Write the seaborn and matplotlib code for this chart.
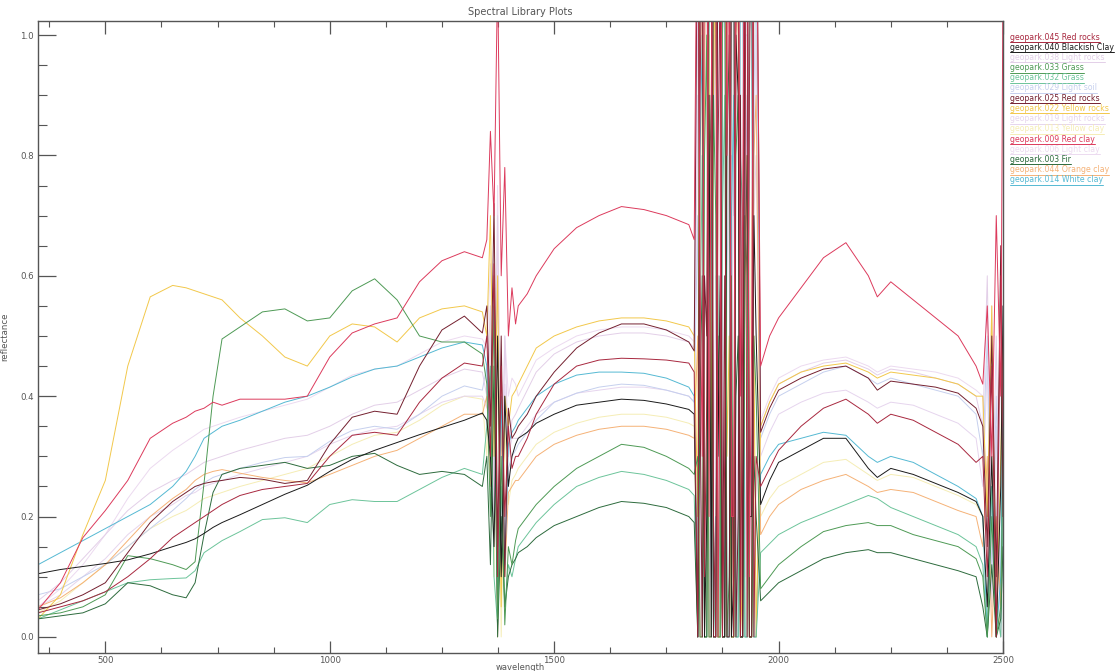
import numpy as np
import pandas as pd
import matplotlib
matplotlib.use("Agg")
import matplotlib.pyplot as plt
from matplotlib.lines import Line2D
from matplotlib.ticker import MultipleLocator
import seaborn as sns

# ---------------- wavelength grid (nm) ----------------
seg1_wl = [350, 400, 450, 500, 550, 600, 650, 680, 700, 720, 740, 760, 800, 850,
           900, 950, 1000, 1050, 1100, 1150, 1200, 1250, 1300, 1340]
band1_wl = [1350, 1358, 1366, 1374, 1382, 1390, 1398, 1406, 1414]
seg2_wl = [1420, 1440, 1460, 1500, 1550, 1600, 1650, 1700, 1750, 1800, 1812]
band2_wl = [1820, 1825, 1830, 1835, 1840, 1845, 1850, 1855, 1860, 1865, 1870, 1875, 1880, 1885,
            1890, 1895, 1900, 1905, 1910, 1915, 1920, 1925, 1930, 1935, 1940, 1945, 1950]
seg3_wl = [1960, 1980, 2000, 2050, 2100, 2150, 2200, 2220, 2250, 2300, 2350, 2400, 2440]
band3_wl = [2455, 2465, 2475, 2485, 2495, 2500]
wavelength = seg1_wl + band1_wl + seg2_wl + band2_wl + seg3_wl + band3_wl

# ---------------- reflectance series ----------------
red_rocks_045 = [
    0.04, 0.05, 0.06, 0.075, 0.10, 0.13, 0.165, 0.18, 0.19, 0.20, 0.21, 0.22, 0.235, 0.245,
    0.25, 0.255, 0.30, 0.335, 0.34, 0.335, 0.39, 0.43, 0.455, 0.45,
    0.5, 0.3, 0.62, 0.1, 0.45, 0.2, 0.35, 0.28, 0.3,
    0.30, 0.33, 0.37, 0.42, 0.45, 0.46, 0.463, 0.462, 0.46, 0.455, 0.44,
    0.0, 0.9, 1.2, 0.1, 0.4, 1.3, 1.4, 0.2, 0.0, 0.8, 1.1, 0.0, 0.3, 1.2, 1.3, 0.4, 0.0, 1.0,
    1.2, 0.0, 0.5, 1.3, 0.0, 0.9, 1.4, 0.0, 0.3,
    0.25, 0.28, 0.31, 0.35, 0.38, 0.395, 0.37, 0.355, 0.37, 0.36, 0.34, 0.32, 0.29,
    0.3, 0.1, 0.45, 0.0, 0.6, 0.35]
blackish_clay_040 = [
    0.105, 0.112, 0.117, 0.122, 0.128, 0.138, 0.15, 0.157, 0.163, 0.172, 0.182, 0.19, 0.203, 0.22,
    0.237, 0.252, 0.275, 0.295, 0.31, 0.323, 0.336, 0.348, 0.36, 0.372,
    0.36, 0.3, 0.15, 0.5, 0.1, 0.4, 0.25, 0.3, 0.32,
    0.33, 0.34, 0.355, 0.37, 0.385, 0.39, 0.395, 0.393, 0.387, 0.378, 0.37,
    0.0, 1.1, 1.3, 0.0, 0.2, 0.9, 0.0, 1.3, 1.2, 0.3, 0.6, 0.0, 0.0, 1.2, 1.4, 0.0, 0.1, 1.0,
    0.9, 0.0, 0.0, 1.3, 1.3, 0.2, 0.2, 0.7, 0.5,
    0.22, 0.26, 0.29, 0.31, 0.33, 0.33, 0.28, 0.265, 0.28, 0.27, 0.255, 0.24, 0.225,
    0.2, 0.05, 0.3, 0.0, 0.25, 0.55]
light_rocks_038 = [
    0.06, 0.09, 0.13, 0.17, 0.21, 0.24, 0.26, 0.27, 0.28, 0.29, 0.295, 0.30, 0.31, 0.32,
    0.33, 0.335, 0.35, 0.37, 0.385, 0.39, 0.41, 0.43, 0.445, 0.44,
    0.4, 0.55, 0.2, 0.7, 0.15, 0.5, 0.3, 0.36, 0.37,
    0.38, 0.41, 0.44, 0.47, 0.49, 0.50, 0.505, 0.505, 0.50, 0.49, 0.48,
    1.1, 0.2, 0.0, 1.2, 1.3, 0.4, 0.2, 1.0, 0.8, 0.0, 1.4, 0.6, 0.0, 1.1, 0.6, 0.0, 1.3, 0.3,
    0.0, 1.2, 1.2, 0.1, 0.4, 1.3, 1.0, 0.2, 0.0,
    0.35, 0.39, 0.42, 0.44, 0.455, 0.46, 0.445, 0.435, 0.445, 0.44, 0.43, 0.42, 0.40,
    0.35, 0.6, 0.15, 0.5, 0.0, 0.4]
grass_033 = [
    0.035, 0.04, 0.05, 0.07, 0.135, 0.13, 0.12, 0.112, 0.125, 0.256, 0.40, 0.495, 0.515, 0.54,
    0.545, 0.525, 0.53, 0.575, 0.595, 0.56, 0.50, 0.49, 0.49, 0.47,
    0.42, 0.2, 0.55, 0.03, 0.3, 0.02, 0.15, 0.12, 0.16,
    0.18, 0.20, 0.22, 0.25, 0.28, 0.30, 0.32, 0.315, 0.30, 0.28, 0.27,
    0.3, 0.0, 0.0, 0.8, 1.0, 0.0, 0.0, 0.9, 0.7, 0.0, 0.0, 1.1, 1.2, 0.0, 0.1, 0.6, 0.0, 0.8,
    0.9, 0.0, 0.0, 0.7, 0.6, 0.0, 0.0, 0.5, 0.4,
    0.08, 0.10, 0.12, 0.15, 0.175, 0.185, 0.19, 0.185, 0.185, 0.17, 0.16, 0.15, 0.13,
    0.1, 0.0, 0.2, 0.0, 0.05, 0.3]
grass_032 = [
    0.03, 0.045, 0.06, 0.075, 0.09, 0.095, 0.097, 0.098, 0.11, 0.14, 0.15, 0.16, 0.175, 0.195,
    0.198, 0.19, 0.22, 0.228, 0.225, 0.225, 0.245, 0.265, 0.28, 0.27,
    0.35, 0.45, 0.1, 0.02, 0.25, 0.05, 0.12, 0.1, 0.13,
    0.15, 0.17, 0.19, 0.22, 0.25, 0.265, 0.275, 0.27, 0.26, 0.245, 0.235,
    0.0, 0.5, 0.8, 0.0, 0.0, 1.0, 1.3, 0.0, 0.1, 0.6, 0.0, 0.7, 0.9, 0.0, 0.0, 1.1, 1.1, 0.0,
    0.0, 0.8, 0.7, 0.0, 0.0, 1.0, 1.2, 0.0, 0.0,
    0.14, 0.155, 0.17, 0.19, 0.205, 0.22, 0.235, 0.23, 0.215, 0.20, 0.185, 0.17, 0.15,
    0.12, 0.0, 0.25, 0.05, 0.0, 0.2]
light_soil_029 = [
    0.07, 0.08, 0.10, 0.12, 0.15, 0.18, 0.21, 0.23, 0.245, 0.256, 0.265, 0.27, 0.28, 0.29,
    0.298, 0.30, 0.325, 0.343, 0.35, 0.345, 0.37, 0.40, 0.417, 0.41,
    0.45, 0.25, 0.6, 0.08, 0.4, 0.15, 0.28, 0.3, 0.31,
    0.32, 0.34, 0.36, 0.39, 0.405, 0.415, 0.42, 0.418, 0.41, 0.40, 0.39,
    0.7, 0.0, 0.0, 1.0, 1.2, 0.0, 0.3, 0.0, 0.0, 1.1, 1.3, 0.0, 0.0, 0.6, 0.8, 0.0, 0.0, 1.2,
    1.4, 0.0, 0.2, 0.7, 0.9, 0.0, 0.0, 0.9, 1.1,
    0.33, 0.37, 0.40, 0.42, 0.44, 0.45, 0.43, 0.42, 0.43, 0.42, 0.41, 0.40, 0.37,
    0.3, 0.5, 0.1, 0.4, 0.0, 0.3]
red_rocks_025 = [
    0.045, 0.055, 0.07, 0.09, 0.14, 0.19, 0.225, 0.24, 0.25, 0.255, 0.258, 0.26, 0.265, 0.262,
    0.255, 0.26, 0.32, 0.365, 0.375, 0.37, 0.45, 0.51, 0.533, 0.505,
    0.55, 0.35, 0.72, 0.15, 0.5, 0.1, 0.38, 0.33, 0.34,
    0.35, 0.37, 0.40, 0.44, 0.48, 0.505, 0.52, 0.52, 0.51, 0.49, 0.475,
    1.3, 0.4, 0.0, 0.6, 0.5, 1.4, 1.2, 0.0, 0.0, 1.3, 1.4, 0.0, 0.6, 0.0, 0.0, 1.2, 1.3, 0.0,
    0.2, 0.9, 0.0, 1.2, 1.1, 0.0, 0.0, 1.3, 1.4,
    0.34, 0.38, 0.41, 0.43, 0.445, 0.45, 0.43, 0.41, 0.425, 0.42, 0.415, 0.405, 0.38,
    0.35, 0.15, 0.5, 0.1, 0.65, 0.2]
yellow_rocks_022 = [
    0.03, 0.07, 0.17, 0.26, 0.45, 0.565, 0.584, 0.58, 0.575, 0.57, 0.565, 0.56, 0.53, 0.50,
    0.465, 0.45, 0.50, 0.52, 0.515, 0.49, 0.53, 0.545, 0.55, 0.54,
    0.5, 0.7, 0.3, 0.6, 0.05, 0.4, 0.35, 0.4, 0.41,
    0.42, 0.45, 0.48, 0.50, 0.515, 0.525, 0.53, 0.53, 0.525, 0.515, 0.50,
    0.2, 1.3, 1.4, 0.0, 0.0, 1.0, 0.3, 0.9, 1.2, 0.0, 0.0, 1.4, 1.4, 0.3, 0.5, 0.0, 0.0, 1.3,
    1.3, 0.0, 0.1, 0.6, 0.8, 0.0, 0.0, 0.5, 0.0,
    0.35, 0.39, 0.42, 0.44, 0.45, 0.455, 0.44, 0.43, 0.44, 0.435, 0.43, 0.42, 0.40,
    0.4, 0.2, 0.55, 0.0, 0.3, 0.5]
light_rocks_019 = [
    0.05, 0.07, 0.10, 0.13, 0.17, 0.20, 0.22, 0.235, 0.24, 0.25, 0.255, 0.26, 0.27, 0.28,
    0.29, 0.30, 0.32, 0.335, 0.345, 0.35, 0.37, 0.39, 0.40, 0.40,
    0.38, 0.5, 0.2, 0.6, 0.12, 0.42, 0.3, 0.33, 0.33,
    0.33, 0.35, 0.37, 0.39, 0.405, 0.41, 0.415, 0.415, 0.41, 0.40, 0.39,
    0.9, 0.0, 0.0, 1.2, 1.3, 0.0, 0.0, 0.9, 1.0, 0.0, 0.2, 1.3, 1.4, 0.0, 0.0, 0.8, 0.7, 1.3,
    1.2, 0.0, 0.0, 1.0, 1.0, 0.1, 0.3, 0.7, 0.8,
    0.30, 0.34, 0.37, 0.39, 0.405, 0.41, 0.39, 0.38, 0.39, 0.385, 0.37, 0.355, 0.33,
    0.25, 0.45, 0.05, 0.35, 0.0, 0.3]
yellow_clay_013 = [
    0.04, 0.06, 0.09, 0.12, 0.15, 0.18, 0.20, 0.21, 0.22, 0.23, 0.235, 0.24, 0.25, 0.26,
    0.27, 0.28, 0.30, 0.32, 0.335, 0.34, 0.36, 0.385, 0.40, 0.395,
    0.3, 0.55, 0.1, 0.45, 0.0, 0.35, 0.22, 0.26, 0.27,
    0.28, 0.30, 0.32, 0.34, 0.355, 0.365, 0.37, 0.37, 0.365, 0.355, 0.35,
    0.0, 0.6, 1.1, 0.0, 0.2, 1.3, 1.4, 0.0, 0.0, 0.6, 0.9, 0.0, 0.0, 1.1, 1.2, 0.0, 0.3, 0.0,
    0.0, 1.3, 1.4, 0.0, 0.0, 0.4, 0.7, 1.0, 1.2,
    0.20, 0.23, 0.25, 0.27, 0.29, 0.295, 0.27, 0.26, 0.27, 0.265, 0.25, 0.235, 0.22,
    0.2, 0.0, 0.3, 0.1, 0.0, 0.45]
red_clay_009 = [
    0.045, 0.09, 0.165, 0.21, 0.26, 0.33, 0.355, 0.365, 0.375, 0.38, 0.39, 0.385, 0.395, 0.395,
    0.395, 0.40, 0.465, 0.505, 0.52, 0.53, 0.59, 0.625, 0.64, 0.63,
    0.66, 0.84, 0.7, 1.1, 0.6, 0.78, 0.5, 0.58, 0.52,
    0.55, 0.57, 0.60, 0.645, 0.68, 0.70, 0.715, 0.71, 0.70, 0.685, 0.66,
    1.4, 0.6, 0.3, 1.2, 1.5, 0.2, 0.9, 1.4, 1.3, 0.0, 0.5, 1.4, 1.4, 0.8, 1.2, 0.2, 0.2, 1.3,
    1.5, 0.4, 0.7, 1.4, 1.4, 0.1, 0.5, 1.3, 1.3,
    0.45, 0.50, 0.53, 0.58, 0.63, 0.655, 0.60, 0.565, 0.59, 0.56, 0.53, 0.50, 0.45,
    0.42, 0.55, 0.3, 0.7, 0.4, 1.1]
light_clay_006 = [
    0.05, 0.08, 0.12, 0.17, 0.23, 0.28, 0.31, 0.325, 0.335, 0.345, 0.35, 0.355, 0.365, 0.375,
    0.385, 0.395, 0.415, 0.435, 0.445, 0.45, 0.47, 0.49, 0.50, 0.495,
    0.48, 0.62, 0.25, 0.75, 0.2, 0.5, 0.4, 0.43, 0.42,
    0.40, 0.43, 0.46, 0.48, 0.50, 0.51, 0.515, 0.515, 0.51, 0.50, 0.49,
    1.2, 0.5, 0.3, 0.0, 0.0, 1.3, 1.4, 0.2, 0.6, 0.0, 0.0, 1.0, 1.1, 0.0, 0.0, 1.3, 1.3, 0.0,
    0.4, 1.0, 0.0, 0.9, 1.2, 0.0, 0.0, 0.8, 1.0,
    0.36, 0.40, 0.43, 0.45, 0.46, 0.465, 0.45, 0.44, 0.45, 0.445, 0.44, 0.43, 0.41,
    0.4, 0.2, 0.55, 0.1, 0.45, 0.25]
fir_003 = [
    0.03, 0.035, 0.04, 0.055, 0.09, 0.085, 0.07, 0.065, 0.09, 0.17, 0.24, 0.27, 0.28, 0.285,
    0.29, 0.28, 0.285, 0.30, 0.305, 0.285, 0.27, 0.275, 0.27, 0.25,
    0.3, 0.12, 0.45, 0.0, 0.2, 0.05, 0.1, 0.12, 0.13,
    0.14, 0.15, 0.165, 0.185, 0.2, 0.215, 0.225, 0.222, 0.215, 0.2, 0.19,
    0.0, 0.4, 0.6, 0.0, 0.0, 0.7, 0.9, 0.0, 0.0, 0.5, 0.3, 0.0, 0.0, 0.8, 1.0, 0.0, 0.0, 0.4,
    0.5, 0.0, 0.0, 0.6, 0.8, 0.0, 0.0, 0.3, 0.2,
    0.06, 0.075, 0.09, 0.11, 0.13, 0.14, 0.145, 0.14, 0.14, 0.13, 0.12, 0.11, 0.10,
    0.05, 0.0, 0.12, 0.0, 0.03, 0.15]
orange_clay_044 = [
    0.05, 0.065, 0.09, 0.12, 0.16, 0.20, 0.23, 0.245, 0.26, 0.27, 0.275, 0.278, 0.272, 0.265,
    0.26, 0.256, 0.27, 0.285, 0.30, 0.31, 0.33, 0.35, 0.37, 0.37,
    0.4, 0.25, 0.6, 0.0, 0.35, 0.1, 0.24, 0.25, 0.26,
    0.26, 0.28, 0.30, 0.32, 0.335, 0.345, 0.35, 0.35, 0.345, 0.335, 0.33,
    0.5, 0.0, 0.0, 0.9, 1.4, 0.0, 0.0, 1.2, 1.1, 0.0, 0.4, 0.0, 0.0, 1.0, 1.3, 0.0, 0.0, 1.1,
    1.0, 0.0, 0.2, 1.3, 1.4, 0.0, 0.0, 0.8, 0.9,
    0.17, 0.20, 0.22, 0.245, 0.26, 0.27, 0.25, 0.24, 0.245, 0.24, 0.225, 0.21, 0.20,
    0.15, 0.3, 0.0, 0.2, 0.05, 0.35]
white_clay_014 = [
    0.12, 0.14, 0.16, 0.18, 0.20, 0.22, 0.25, 0.275, 0.30, 0.33, 0.34, 0.35, 0.36, 0.375,
    0.39, 0.40, 0.415, 0.432, 0.445, 0.45, 0.465, 0.48, 0.49, 0.485,
    0.45, 0.3, 0.58, 0.05, 0.4, 0.12, 0.32, 0.34, 0.35,
    0.36, 0.38, 0.40, 0.42, 0.435, 0.44, 0.44, 0.438, 0.43, 0.415, 0.40,
    0.0, 0.8, 1.0, 0.0, 0.0, 1.1, 1.3, 0.0, 0.2, 0.0, 0.0, 1.0, 1.2, 0.0, 0.0, 0.7, 0.9, 0.0,
    0.0, 1.2, 1.3, 0.0, 0.0, 1.0, 1.1, 0.0, 0.0,
    0.27, 0.30, 0.32, 0.33, 0.34, 0.335, 0.30, 0.29, 0.30, 0.29, 0.27, 0.25, 0.23,
    0.2, 0.0, 0.25, 0.0, 0.1, 0.4]

# legend order (top to bottom) with labels and colours
legend_labels = [
    "geopark.045 Red rocks", "geopark.040 Blackish Clay", "geopark.038 Light rocks",
    "geopark.033 Grass", "geopark.032 Grass", "geopark.029 Light soil",
    "geopark.025 Red rocks", "geopark.022 Yellow rocks", "geopark.019 Light rocks",
    "geopark.013 Yellow clay", "geopark.009 Red clay", "geopark.006 Light clay",
    "geopark.003 Fir", "geopark.044 Orange clay", "geopark.014 White clay"]
legend_series = [
    red_rocks_045, blackish_clay_040, light_rocks_038, grass_033, grass_032, light_soil_029,
    red_rocks_025, yellow_rocks_022, light_rocks_019, yellow_clay_013, red_clay_009,
    light_clay_006, fir_003, orange_clay_044, white_clay_014]
legend_colors = [
    "#a8283f", "#1a1a1a", "#e3cfe8", "#4e9a55", "#6cc49a", "#c6d0ee",
    "#74202f", "#f2c84b", "#e6d5ee", "#f5edb5", "#dc3a5c", "#ecdaf0",
    "#2d6b3d", "#f5b277", "#55b9d3"]

# drawing order (faint first, strong last)
draw_order = [11, 9, 8, 5, 2, 13, 14, 7, 4, 12, 3, 1, 6, 0, 10]

frames = []
for lab, vals in zip(legend_labels, legend_series):
    frames.append(pd.DataFrame({"wavelength": wavelength, "reflectance": vals,
                                "spectrum": lab}))
df = pd.concat(frames, ignore_index=True)

sns.set_theme(style="white")
plt.rcParams['font.family'] = ['DejaVu Sans']

W, H = 1117, 671
fig = plt.figure(figsize=(W / 100, H / 100), dpi=100)
ax = fig.add_axes([38 / W, 18 / H, 965 / W, 632 / H])

palette = {lab: c for lab, c in zip(legend_labels, legend_colors)}
hue_order = [legend_labels[i] for i in draw_order]
sns.lineplot(data=df, x="wavelength", y="reflectance", hue="spectrum",
             hue_order=hue_order, palette=palette, estimator=None, sort=False,
             units="spectrum", linewidth=0.7, legend=False, ax=ax)

ax.set_xlim(350, 2500)
ax.set_ylim(-0.0267, 1.0233)
ax.xaxis.set_minor_locator(MultipleLocator(125))
ax.yaxis.set_minor_locator(MultipleLocator(0.05))
ax.set_xticks([500, 1000, 1500, 2000, 2500])
ax.set_xticklabels(["500", "1000", "1500", "2000", "2500"])
ax.set_yticks([0.0, 0.2, 0.4, 0.6, 0.8, 1.0])
ax.set_yticklabels(["0.0", "0.2", "0.4", "0.6", "0.8", "1.0"])

tc = "#555555"
ax.tick_params(axis="x", which="major", direction="in", length=9, width=0.9,
               top=True, bottom=True, labelsize=6.2, colors=tc, pad=2)
ax.tick_params(axis="x", which="minor", direction="in", length=4.5, width=0.8,
               top=True, bottom=True, colors=tc)
ax.tick_params(axis="y", which="major", direction="in", length=13, width=0.9,
               left=True, right=False, labelsize=6.2, colors=tc, pad=3)
ax.tick_params(axis="y", which="minor", direction="in", length=6.5, width=0.8,
               left=True, right=False, colors=tc)
for s in ax.spines.values():
    s.set_color(tc)
    s.set_linewidth(1.0)

ax.set_title("Spectral Library Plots", fontsize=7, color=tc, pad=4)
ax.set_xlabel("wavelength", fontsize=6, color=tc, labelpad=-1)
ax.set_ylabel("reflectance", fontsize=6.2, color=tc, labelpad=8)

# legend: coloured underlined labels at the right
texts = []
for k, (lab, col) in enumerate(zip(legend_labels, legend_colors)):
    ypx = 37 + k * 10.2
    t = fig.text(1010 / W, 1 - ypx / H, lab, color=col, fontsize=5.6,
                 ha="left", va="center")
    texts.append((t, col))
fig.canvas.draw()
r = fig.canvas.get_renderer()
for t, col in texts:
    bb = t.get_window_extent(r)
    yb = bb.y0 - 0.5
    fig.add_artist(Line2D([bb.x0 / W, min(bb.x1, W - 1) / W], [yb / H, yb / H],
                          transform=fig.transFigure, color=col, linewidth=0.7))

fig.savefig("out.png", dpi=100)
